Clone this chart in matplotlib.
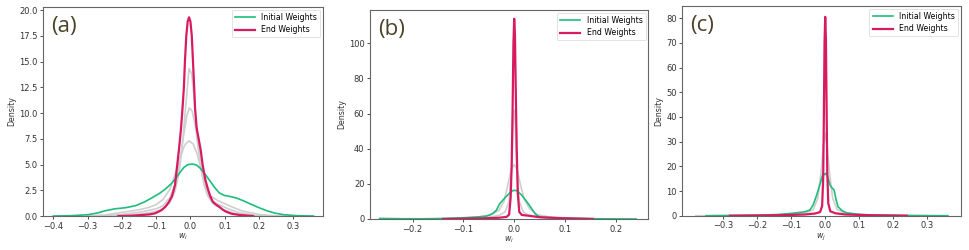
"""Weight distributions (KDE curves) before, during and after training."""
import matplotlib
matplotlib.use('Agg')
import matplotlib.pyplot as plt

# Colours
GREEN = '#1dbd7b'
PINK = '#d81b60'
GREY = '#cfcfcf'

# ---------------- panel (a) ----------------
a_init_x = [-0.40, -0.35, -0.30, -0.27, -0.25, -0.22, -0.19, -0.16, -0.135, -0.113, -0.09, -0.073,
            -0.057, -0.044, -0.03, -0.019, -0.008, 0.005, 0.018, 0.030, 0.042, 0.055, 0.07,
            0.084, 0.099, 0.115, 0.134, 0.153, 0.173, 0.197, 0.222, 0.246, 0.271, 0.31, 0.359]
a_init_y = [0.0, 0.03, 0.12, 0.3, 0.5, 0.7, 0.8, 1.0, 1.35, 1.75, 2.2, 2.62,
            3.1, 3.6, 4.25, 4.72, 4.98, 5.05, 4.95, 4.6, 4.1, 3.5, 2.8,
            2.25, 2.0, 1.9, 1.75, 1.5, 1.2, 0.85, 0.52, 0.28, 0.13, 0.03, 0.0]
a_end_x = [-0.21, -0.17, -0.12, -0.103, -0.085, -0.073, -0.063, -0.054, -0.045, -0.039, -0.033,
           -0.028, -0.024, -0.019, -0.016, -0.012, -0.008, -0.004, 0.0, 0.004, 0.0075, 0.011,
           0.0135, 0.018, 0.024, 0.030, 0.036, 0.043, 0.049, 0.057, 0.065, 0.075, 0.084,
           0.095, 0.104, 0.12, 0.143, 0.183]
a_end_y = [0.0, 0.03, 0.15, 0.26, 0.55, 0.9, 1.35, 1.9, 3.0, 4.8, 6.6,
           8.3, 10.0, 12.5, 15.0, 17.5, 18.9, 19.3, 18.9, 17.5, 15.0, 12.5,
           10.5, 8.6, 7.5, 6.4, 4.9, 3.6, 2.85, 2.0, 1.4, 1.1, 0.9,
           0.6, 0.42, 0.22, 0.1, 0.0]
a_mid_x = [
    [-0.30, -0.25, -0.20, -0.15, -0.12, -0.10, -0.08, -0.06, -0.045, -0.03, -0.018, -0.005,
     0.008, 0.02, 0.03, 0.04, 0.05, 0.06, 0.08, 0.10, 0.12, 0.15, 0.20, 0.25, 0.28],
    [-0.25, -0.20, -0.15, -0.10, -0.08, -0.06, -0.045, -0.03, -0.02, -0.01, -0.003,
     0.005, 0.015, 0.025, 0.035, 0.045, 0.055, 0.07, 0.09, 0.11, 0.14, 0.18, 0.22],
    [-0.22, -0.18, -0.14, -0.10, -0.08, -0.06, -0.045, -0.033, -0.022, -0.013, -0.004,
     0.004, 0.012, 0.02, 0.03, 0.04, 0.05, 0.065, 0.085, 0.10, 0.13, 0.17, 0.20],
]
a_mid_y = [
    [0.0, 0.1, 0.35, 0.6, 0.85, 1.1, 1.6, 2.6, 4.0, 5.6, 6.8, 7.3,
     7.0, 6.0, 4.6, 3.3, 2.4, 1.9, 1.5, 1.2, 0.9, 0.5, 0.15, 0.02, 0.0],
    [0.0, 0.15, 0.35, 0.7, 1.0, 1.8, 3.0, 5.5, 7.8, 9.8, 10.5,
     10.2, 8.6, 6.0, 4.0, 2.6, 1.8, 1.3, 1.0, 0.7, 0.35, 0.1, 0.0],
    [0.0, 0.08, 0.2, 0.45, 0.7, 1.3, 2.4, 4.2, 7.5, 11.0, 14.3,
     13.8, 11.0, 7.8, 5.0, 3.0, 2.0, 1.2, 0.8, 0.55, 0.25, 0.05, 0.0],
]

# ---------------- panel (b) ----------------
b_init_x = [-0.265, -0.22, -0.18, -0.14, -0.10, -0.07, -0.055, -0.049, -0.042, -0.035, -0.029,
            -0.019, -0.010, -0.002, 0.005, 0.015, 0.025, 0.033, 0.041, 0.048, 0.055,
            0.07, 0.09, 0.12, 0.16, 0.20, 0.24]
b_init_y = [0.3, 0.15, 0.1, 0.2, 0.6, 1.2, 1.6, 2.2, 3.2, 5.0, 8.5,
            11.8, 14.5, 16.3, 16.2, 13.5, 9.8, 6.5, 3.0, 1.5, 1.0,
            0.8, 0.6, 0.3, 0.1, 0.05, 0.0]
b_end_x = [-0.14, -0.10, -0.06, -0.03, -0.015, -0.010, -0.007, -0.005, -0.003, -0.0015, 0.0,
           0.0015, 0.003, 0.005, 0.007, 0.010, 0.015, 0.03, 0.05, 0.08, 0.10, 0.13, 0.155]
b_end_y = [0.0, 0.2, 0.4, 0.7, 1.2, 2.5, 12.0, 30.0, 65.0, 100.0, 114.0,
           105.0, 75.0, 40.0, 15.0, 4.0, 2.3, 1.8, 1.0, 0.6, 0.4, 0.2, 0.0]
b_mid_x = [
    [-0.20, -0.12, -0.07, -0.045, -0.03, -0.02, -0.012, -0.006, 0.0, 0.006, 0.012,
     0.02, 0.03, 0.045, 0.07, 0.12, 0.20],
    [-0.18, -0.10, -0.05, -0.03, -0.018, -0.010, -0.005, -0.002, 0.0, 0.002, 0.005,
     0.010, 0.018, 0.03, 0.05, 0.10, 0.18],
]
b_mid_y = [
    [0.0, 0.5, 1.2, 2.5, 5.0, 10.0, 20.0, 28.0, 31.0, 28.0, 20.0,
     11.0, 6.0, 2.5, 1.2, 0.4, 0.0],
    [0.0, 0.4, 1.0, 2.0, 4.0, 10.0, 30.0, 55.0, 62.0, 55.0, 30.0,
     10.0, 4.0, 2.0, 1.0, 0.3, 0.0],
]

# ---------------- panel (c) ----------------
c_init_x = [-0.35, -0.28, -0.20, -0.14, -0.099, -0.06, -0.045, -0.035, -0.025, -0.016, -0.006,
            -0.001, 0.004, 0.014, 0.020, 0.026, 0.032, 0.038, 0.05, 0.063, 0.10, 0.15,
            0.22, 0.30, 0.36]
c_init_y = [0.0, 0.1, 0.2, 0.5, 0.95, 1.6, 2.3, 4.5, 8.4, 12.4, 17.4,
            16.6, 17.4, 12.4, 11.3, 10.4, 6.5, 3.6, 2.0, 1.2, 0.5, 0.25,
            0.1, 0.03, 0.0]
c_end_x = [-0.28, -0.20, -0.12, -0.06, -0.03, -0.015, -0.009, -0.006, -0.004, -0.002, 0.0,
           0.002, 0.004, 0.006, 0.009, 0.015, 0.03, 0.06, 0.12, 0.18, 0.24]
c_end_y = [0.0, 0.1, 0.25, 0.5, 0.9, 1.5, 4.0, 15.0, 40.0, 70.0, 80.5,
           72.0, 45.0, 18.0, 5.0, 1.8, 1.0, 0.5, 0.25, 0.1, 0.0]
c_mid_x = [
    [-0.38, -0.25, -0.12, -0.06, -0.035, -0.022, -0.012, -0.005, 0.0, 0.005, 0.012,
     0.022, 0.035, 0.06, 0.12, 0.25, 0.36],
]
c_mid_y = [
    [0.0, 0.1, 0.4, 1.0, 2.5, 7.0, 18.0, 29.0, 33.5, 29.0, 18.0,
     7.0, 2.5, 1.0, 0.4, 0.1, 0.0],
]

# axis settings for each panel
panel_letters = ['(a)', '(b)', '(c)']
x_labels = ['$w_i$', '$w_i$', '$w_j$']
x_limits = [(-0.43, 0.387), (-0.284, 0.264), (-0.42, 0.398)]
y_limits = [(0, 20.3), (0, 119), (0, 84.9)]
x_ticks = [[-0.4, -0.3, -0.2, -0.1, 0.0, 0.1, 0.2, 0.3],
           [-0.2, -0.1, 0.0, 0.1, 0.2],
           [-0.3, -0.2, -0.1, 0.0, 0.1, 0.2, 0.3]]
y_ticks = [[0, 2.5, 5, 7.5, 10, 12.5, 15, 17.5, 20],
           [0, 20, 40, 60, 80, 100],
           [0, 10, 20, 30, 40, 50, 60, 70, 80]]
y_formats = ['{:.1f}', '{:.0f}', '{:.0f}']
axes_boxes = [[0.0444, 0.136, 0.289, 0.836],
              [0.3818, 0.124, 0.2872, 0.836],
              [0.7041, 0.137, 0.2873, 0.839]]

panels = [
    (a_init_x, a_init_y, a_end_x, a_end_y, a_mid_x, a_mid_y),
    (b_init_x, b_init_y, b_end_x, b_end_y, b_mid_x, b_mid_y),
    (c_init_x, c_init_y, c_end_x, c_end_y, c_mid_x, c_mid_y),
]

fig = plt.figure(figsize=(9.69, 2.5), dpi=100)

for i, (ix, iy, ex, ey, mxs, mys) in enumerate(panels):
    ax = fig.add_axes(axes_boxes[i])

    # intermediate epochs in light grey
    for mx, my in zip(mxs, mys):
        ax.plot(mx, my, color=GREY, linewidth=1.2, zorder=1)
    ax.plot(ix, iy, color=GREEN, linewidth=1.2, label='Initial Weights', zorder=2)
    ax.plot(ex, ey, color=PINK, linewidth=1.6, label='End Weights', zorder=3)

    ax.set_xlim(*x_limits[i])
    ax.set_ylim(*y_limits[i])
    ax.set_xticks(x_ticks[i])
    ax.set_xticklabels([f'{t:.1f}'.replace('-', '\u2212') for t in x_ticks[i]])
    ax.set_yticks(y_ticks[i])
    ax.set_yticklabels([y_formats[i].format(t) for t in y_ticks[i]])
    ax.tick_params(labelsize=6, length=2.5, width=0.6, pad=1.5,
                   colors='#333333')
    for spine in ax.spines.values():
        spine.set_color('#666666')
        spine.set_linewidth(0.8)

    ax.set_xlabel(x_labels[i], fontsize=5.7, labelpad=1, color='#333333')
    ax.set_ylabel('Density', fontsize=5.7, labelpad=2, color='#333333')

    ax.text(0.03, 0.955, panel_letters[i], transform=ax.transAxes,
            fontsize=16, family='Open Sans', color='#4a4228',
            ha='left', va='top')

    leg = ax.legend(loc='upper right', fontsize=5.6, frameon=True,
                    borderpad=0.4, handlelength=2.6, labelspacing=0.45,
                    borderaxespad=0.35)
    leg.get_frame().set_linewidth(0.5)
    leg.get_frame().set_edgecolor('#cccccc')

fig.savefig('out.png', dpi=100)
